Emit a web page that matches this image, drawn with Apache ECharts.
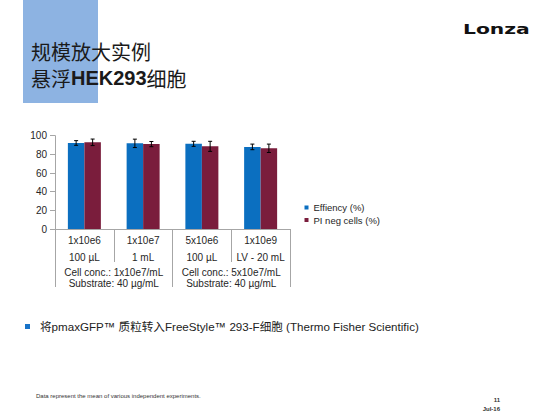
<!DOCTYPE html>
<html>
<head>
<meta charset="utf-8">
<script src="https://cdn.jsdelivr.net/npm/echarts@6/dist/echarts.min.js"></script>
<style>
html,body{margin:0;padding:0;background:#fff;}
#main{width:554px;height:416px;}
</style>
</head>
<body>
<div id="main"></div>
<script>
// ---- data ----
const categories = ['1x10e6', '1x10e7', '5x10e6', '1x10e9'];
const volumes = ['100 µL', '1 mL', '100 µL', 'LV - 20 mL'];
const groups = ['Cell conc.: 1x10e7/mL\nSubstrate: 40 µg/mL', 'Cell conc.: 5x10e7/mL\nSubstrate: 40 µg/mL'];
const seriesNames = ['Effiency (%)', 'PI neg cells (%)'];
const efficiency = [92.2, 91.8, 91.3, 88.0];
const efficiencyErr = [2.5, 4.5, 2.7, 3.0];
const piNeg = [92.9, 91.0, 88.6, 86.5];
const piNegErr = [3.5, 2.8, 5.4, 4.5];
const yMin = 0, yMax = 100, yStep = 20;

const LATIN = '"Liberation Sans", Arial, "Noto Sans CJK SC", sans-serif';
const CJK = '"Noto Sans CJK SC", "Liberation Sans", sans-serif';
const BAR_W = 16.5;
const AXIS_COLOR = '#a6a6a6';
const TEXT_COLOR = '#262626';

const chart = echarts.init(document.getElementById('main'), null, {renderer: 'svg', width: 554, height: 416});

function errRender(offset) {
  return function (params, api) {
    const lo = api.coord([api.value(0), api.value(1)]);
    const hi = api.coord([api.value(0), api.value(2)]);
    const x = lo[0] + offset;
    const c = 2;
    const st = {stroke: '#000', lineWidth: 1};
    return {
      type: 'group',
      children: [
        {type: 'line', shape: {x1: x, y1: lo[1], x2: x, y2: hi[1]}, style: st},
        {type: 'line', shape: {x1: x - c, y1: lo[1], x2: x + c, y2: lo[1]}, style: st},
        {type: 'line', shape: {x1: x - c, y1: hi[1], x2: x + c, y2: hi[1]}, style: st}
      ]
    };
  };
}

const option = {
  animation: false,
  textStyle: {fontFamily: LATIN},
  grid: {left: 55, right: 264, top: 135.7, bottom: 187, containLabel: false},
  legend: {
    orient: 'vertical',
    left: 299.5,
    top: 197,
    icon: 'rect',
    itemWidth: 4,
    itemHeight: 4,
    itemGap: 1.5,
    data: seriesNames,
    textStyle: {fontSize: 9.5, color: TEXT_COLOR, fontFamily: LATIN, lineHeight: 11}
  },
  xAxis: [
    {
      type: 'category',
      position: 'bottom',
      data: categories,
      axisLine: {lineStyle: {color: AXIS_COLOR}},
      axisTick: {show: true, length: 33, interval: 0, lineStyle: {color: AXIS_COLOR}},
      axisLabel: {
        interval: 0,
        margin: 3,
        fontSize: 10,
        lineHeight: 17,
        color: TEXT_COLOR,
        fontFamily: LATIN,
        formatter: function (v, i) { return v + '\n' + volumes[i]; }
      }
    },
    {
      type: 'category',
      position: 'bottom',
      data: groups,
      axisLine: {show: false},
      axisTick: {show: true, length: 58, interval: 0, lineStyle: {color: AXIS_COLOR}},
      axisLabel: {interval: 0, margin: 38.5, fontSize: 10, lineHeight: 10.5, color: TEXT_COLOR, fontFamily: LATIN}
    }
  ],
  yAxis: {
    type: 'value',
    min: yMin,
    max: yMax,
    interval: yStep,
    axisLine: {show: true, lineStyle: {color: AXIS_COLOR}},
    axisTick: {show: true, length: 5, lineStyle: {color: AXIS_COLOR}},
    splitLine: {show: false},
    axisLabel: {fontSize: 10, color: TEXT_COLOR, margin: 8, fontFamily: LATIN}
  },
  series: [
    {
      name: seriesNames[0], type: 'bar', xAxisIndex: 0, data: efficiency,
      barWidth: BAR_W, barGap: '0%', itemStyle: {color: '#0b6fc0'}
    },
    {
      name: seriesNames[1], type: 'bar', xAxisIndex: 0, data: piNeg,
      barWidth: BAR_W, barGap: '0%', itemStyle: {color: '#7a1d3c'}
    },
    {
      type: 'custom', xAxisIndex: 0, z: 5,
      renderItem: errRender(-BAR_W / 2),
      data: efficiency.map(function (v, i) { return [i, v - efficiencyErr[i], v + efficiencyErr[i]]; })
    },
    {
      type: 'custom', xAxisIndex: 0, z: 5,
      renderItem: errRender(BAR_W / 2),
      data: piNeg.map(function (v, i) { return [i, v - piNegErr[i], v + piNegErr[i]]; })
    }
  ],
  graphic: [
    {type: 'rect', z: -1, shape: {x: 23, y: 0, width: 75, height: 103}, style: {fill: '#8db3e2'}},
    {type: 'text', x: 31, y: 51.5, style: {text: '规模放大实例', font: '20px ' + CJK, fill: '#1a1a1a', verticalAlign: 'middle'}},
    {type: 'text', x: 31, y: 78, style: {
      text: '{a|悬浮}{b|HEK293}{a|细胞}', verticalAlign: 'middle',
      rich: {
        a: {fontSize: 20, fontFamily: CJK, fill: '#1a1a1a', color: '#1a1a1a'},
        b: {fontSize: 20, fontFamily: LATIN, fontWeight: 'bold', fill: '#1a1a1a', color: '#1a1a1a'}
      }
    }},
    {type: 'text', x: 463, y: 29.5, scaleX: 1.45, style: {text: 'Lonza', font: 'bold 14px "DejaVu Sans", sans-serif', fill: '#111', verticalAlign: 'middle'}},
    {type: 'rect', shape: {x: 25, y: 324, width: 5, height: 5}, style: {fill: '#1873c8'}},
    {type: 'text', x: 40, y: 326.5, style: {text: '将pmaxGFP™ 质粒转入FreeStyle™ 293-F细胞 (Thermo Fisher Scientific)', font: '11.6px ' + LATIN, fill: '#222', verticalAlign: 'middle'}},
    {type: 'text', x: 36, y: 396, style: {text: 'Data represent the mean of various independent experiments.', font: '6px ' + LATIN, fill: '#333', verticalAlign: 'middle'}},
    {type: 'text', x: 500, y: 399.5, style: {text: '11', font: 'bold 6px ' + LATIN, fill: '#333', align: 'right', verticalAlign: 'middle'}},
    {type: 'text', x: 500, y: 408.5, style: {text: 'Jul-16', font: 'bold 6px ' + LATIN, fill: '#333', align: 'right', verticalAlign: 'middle'}}
  ]
};
chart.setOption(option);
</script>
</body>
</html>
